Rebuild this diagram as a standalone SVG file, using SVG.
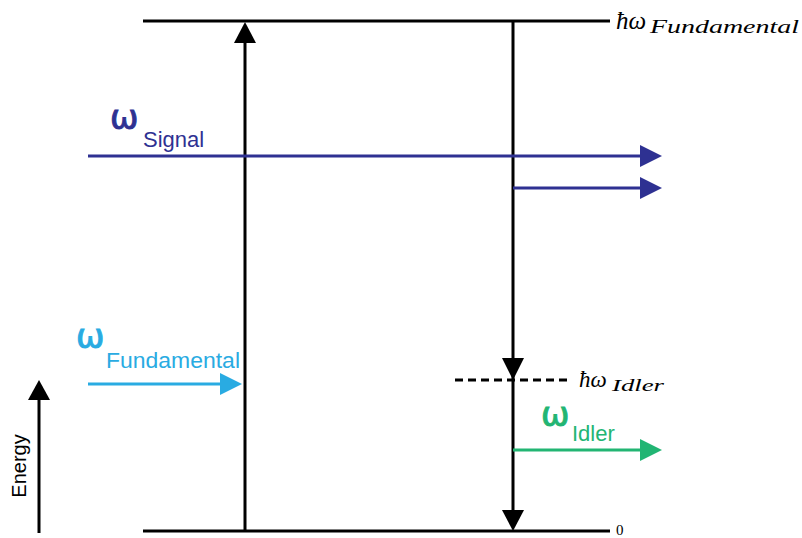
<svg xmlns="http://www.w3.org/2000/svg" width="802" height="538" viewBox="0 0 802 538">
<style>
.k{stroke:#000;stroke-width:3;fill:none}
.sig{stroke:#2e3192;stroke-width:3;fill:none}
.fun{stroke:#29abe2;stroke-width:3;fill:none}
.idl{stroke:#22b573;stroke-width:3;fill:none}
.sans{font-family:"Liberation Sans",Arial,sans-serif}
.om{font-family:"DejaVu Sans",sans-serif;font-size:34px;stroke-width:0.9}
.math{font-family:"Liberation Serif","DejaVu Serif",serif;font-style:italic;fill:#000}
</style>
<rect width="802" height="538" fill="#fff"/>
<g id="levels">
<line class="k" x1="143" y1="21" x2="610" y2="21"/>
<line class="k" x1="143" y1="531" x2="610" y2="531"/>
<line class="k" x1="455" y1="380" x2="570" y2="380" stroke-dasharray="8,5"/>
</g>
<g id="labels">
<text class="math" x="616" y="29" font-size="25">ħω</text>
<text class="math" x="650" y="33" font-size="18" textLength="149" lengthAdjust="spacingAndGlyphs">Fundamental</text>
<text class="math" x="579" y="387" font-size="23">ħω</text>
<text class="math" x="612" y="391" font-size="17" textLength="52" lengthAdjust="spacingAndGlyphs">Idler</text>
<text x="616" y="535" font-family="Liberation Serif,serif" font-size="15">0</text>
<text class="om" x="110" y="129" fill="#2e3192" stroke="#2e3192">ω</text>
<text class="sans" x="143" y="147" font-size="22" fill="#2e3192">Signal</text>
<text class="om" x="76" y="348" fill="#29abe2" stroke="#29abe2">ω</text>
<text class="sans" x="106" y="368" font-size="22" textLength="134" lengthAdjust="spacingAndGlyphs" fill="#29abe2">Fundamental</text>
<text class="om" x="541" y="426" fill="#22b573" stroke="#22b573">ω</text>
<text class="sans" x="572" y="441" font-size="22" fill="#22b573">Idler</text>
<text class="sans" x="0" y="0" font-size="20" transform="translate(26,466) rotate(-90)" text-anchor="middle">Energy</text>
</g>
<g id="connectors">
<line class="k" x1="245" y1="531" x2="245" y2="40"/>
<polygon points="245,22 234,43 256,43" fill="#000"/>
<line class="k" x1="513" y1="21" x2="513" y2="512"/>
<polygon points="513,380 502,358 524,358" fill="#000"/>
<polygon points="513,531 502,510 524,510" fill="#000"/>
<line class="sig" x1="88" y1="156" x2="642" y2="156"/>
<polygon points="662,156 640,145 640,167" fill="#2e3192"/>
<line class="sig" x1="513" y1="188" x2="642" y2="188"/>
<polygon points="662,188 640,177 640,199" fill="#2e3192"/>
<line class="fun" x1="88" y1="384" x2="222" y2="384"/>
<polygon points="242,384 220,373 220,395" fill="#29abe2"/>
<line class="idl" x1="513" y1="450" x2="642" y2="450"/>
<polygon points="662,450 640,439 640,461" fill="#22b573"/>
<line class="k" x1="39" y1="533" x2="39" y2="397"/>
<polygon points="39,380 28,400 50,400" fill="#000"/>
</g>
</svg>
